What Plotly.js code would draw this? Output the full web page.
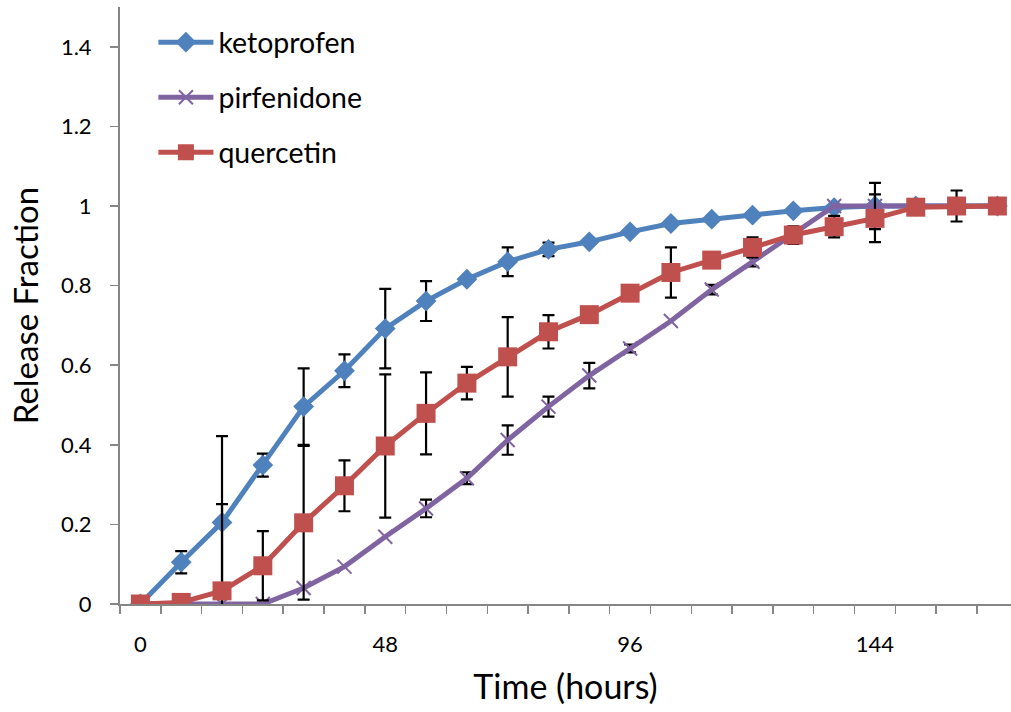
<!DOCTYPE html>
<html>
<head>
<meta charset="utf-8">
<script src="https://cdn.plot.ly/plotly-3.0.1.min.js"></script>
<style>html,body{margin:0;padding:0;background:#fff;}#chart{width:1011px;height:712px;}</style>
</head>
<body>
<div id="chart"></div>
<script>
const hours = [0, 8, 16, 24, 32, 40, 48, 56, 64, 72, 80, 88, 96, 104, 112, 120, 128, 136, 144, 152, 160, 168];
const ketoprofen = [0, 0.105, 0.205, 0.349, 0.496, 0.586, 0.692, 0.761, 0.816, 0.86, 0.891, 0.91, 0.935, 0.956, 0.967, 0.977, 0.988, 0.996, 1.0, 1.0, 1.0, 1.0];
const ketoprofenErr = [NaN, 0.028, 0.217, 0.029, 0.096, 0.041, 0.1, 0.05, NaN, 0.036, 0.017, NaN, NaN, NaN, NaN, NaN, NaN, NaN, 0.058, NaN, NaN, NaN];
const pirfenidone = [0, 0, 0, 0, 0.04, 0.094, 0.169, 0.24, 0.316, 0.412, 0.496, 0.574, 0.642, 0.711, 0.79, 0.86, 0.927, 1.0, 1.0, 1.0, 1.0, 1.0];
const pirfenidoneErr = [NaN, NaN, NaN, NaN, NaN, NaN, NaN, 0.022, 0.015, 0.037, 0.025, 0.032, 0.01, NaN, 0.012, 0.012, NaN, NaN, NaN, NaN, NaN, NaN];
const quercetin = [0, 0.004, 0.033, 0.096, 0.204, 0.297, 0.397, 0.479, 0.555, 0.621, 0.684, 0.727, 0.781, 0.833, 0.864, 0.896, 0.927, 0.948, 0.969, 0.997, 1.0, 1.0];
const quercetinErr = [NaN, NaN, 0.218, 0.087, 0.193, 0.064, 0.18, 0.103, 0.041, 0.1, 0.042, NaN, NaN, 0.063, NaN, 0.025, 0.022, 0.027, 0.06, NaN, 0.039, NaN];
const xTickVals = [0, 48, 96, 144];

const FONT = 'Lato, "Open Sans", sans-serif';
const AXIS = '#868686';
function errY(arr) {
  return {type: 'data', array: arr, visible: true, color: '#000000', thickness: 2.2, width: 6};
}
const traces = [
  {x: hours, y: ketoprofen, name: 'ketoprofen', type: 'scatter', mode: 'lines+markers', legendgroup: 'a',
   line: {color: '#4F81BD', width: 5}, marker: {symbol: 'diamond', size: 16, color: '#4F81BD'},
   error_y: errY(ketoprofenErr)},
  {x: hours, y: pirfenidone, name: 'pirfenidone', type: 'scatter', mode: 'lines+markers', legendgroup: 'b',
   line: {color: '#8064A2', width: 5}, marker: {symbol: 'x-thin', size: 14, line: {color: '#8064A2', width: 2}, color: '#8064A2'},
   error_y: errY(pirfenidoneErr)},
  {x: hours, y: quercetin, name: 'quercetin', type: 'scatter', mode: 'lines+markers', legendgroup: 'c',
   line: {color: '#C0504D', width: 5}, marker: {symbol: 'square', size: 19, color: '#C0504D'},
   error_y: errY(quercetinErr)}
];
const layout = {
  width: 1011, height: 712,
  margin: {l: 120, r: 0, t: 7, b: 108},
  paper_bgcolor: '#ffffff', plot_bgcolor: '#ffffff',
  font: {family: FONT, color: '#000000', size: 22},
  showlegend: true,
  legend: {x: 0.0375, y: 0.983, xanchor: 'left', yanchor: 'top', font: {family: FONT, size: 28.5, color: '#000'},
           itemwidth: 55, tracegroupgap: 15, bgcolor: 'rgba(0,0,0,0)', traceorder: 'grouped'},
  xaxis: {
    range: [-4, 170.67], tickmode: 'array', tickvals: xTickVals, ticks: '', showgrid: false, zeroline: false,
    showline: true, linecolor: AXIS, linewidth: 2, ticklabelstandoff: 20,
    tickfont: {family: FONT, size: 22, color: '#000'},
    minor: {tickmode: 'linear', tick0: -4, dtick: 8, ticks: 'outside', ticklen: 8, tickwidth: 1.5, tickcolor: AXIS, showgrid: false},
    title: {text: 'Time (hours)', font: {family: FONT, size: 34, color: '#000'}, standoff: 19}
  },
  yaxis: {
    range: [0, 1.5], tickmode: 'linear', tick0: 0, dtick: 0.2, ticks: 'outside', ticklen: 8, tickwidth: 1.5, tickcolor: AXIS,
    showgrid: false, zeroline: false, showline: true, linecolor: AXIS, linewidth: 2, ticklabelstandoff: 14,
    tickfont: {family: FONT, size: 22, color: '#000'},
    title: {text: 'Release Fraction', font: {family: FONT, size: 33, color: '#000'}, standoff: 12}
  }
};
Plotly.newPlot('chart', traces, layout, {displayModeBar: false, staticPlot: true});
</script>
</body>
</html>
